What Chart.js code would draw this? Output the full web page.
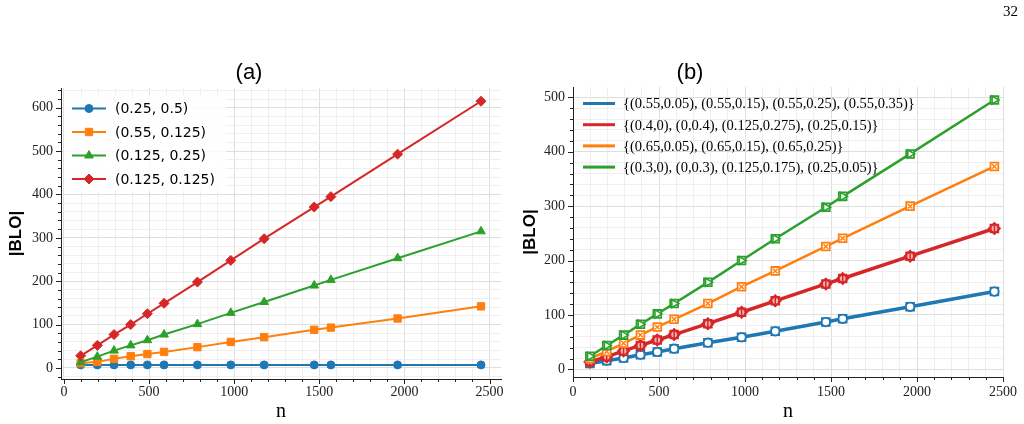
<!DOCTYPE html>
<html>
<head>
<meta charset="utf-8">
<script src="https://cdn.jsdelivr.net/npm/chart.js@4.4.0/dist/chart.umd.min.js"></script>
<style>
html,body{margin:0;padding:0;background:#fff;width:1024px;height:424px;overflow:hidden;position:relative;}
.wrap{position:absolute;top:0;width:512px;height:424px;}
#wrapA{left:0;}
#wrapB{left:512px;}
.ttl{position:absolute;font-family:"Liberation Sans",Arial,sans-serif;font-size:22px;color:#000;transform:translate(-50%,-50%);white-space:nowrap;line-height:1;}
#page{position:absolute;left:1003px;top:4px;font-family:"Liberation Serif",serif;font-size:15px;color:#000;line-height:1;}
</style>
</head>
<body>
<div class="wrap" id="wrapA"><canvas id="chartA" width="512" height="424"></canvas></div>
<div class="wrap" id="wrapB"><canvas id="chartB" width="512" height="424"></canvas></div>
<div class="ttl" style="left:249px;top:72px;">(a)</div>
<div class="ttl" style="left:690px;top:72px;">(b)</div>
<div id="page">32</div>
<script>
// ---------------- data ----------------
const nValues = [98, 196, 294, 392, 490, 588, 784, 980, 1176, 1470, 1568, 1960, 2450];

// panel (a)
const labelsA = ["(0.25, 0.5)", "(0.55, 0.125)", "(0.125, 0.25)", "(0.125, 0.125)"];
const blueA   = [7, 7, 7, 7, 7, 7, 7, 7, 7, 7, 7, 7, 7];
const orangeA = [11, 14, 21, 27, 32, 37, 48, 60, 71, 88, 93, 114, 142];
const greenA  = [13, 26, 40, 52, 64, 77, 101, 127, 152, 190, 203, 253, 315];
const redA    = [28, 52, 77, 100, 125, 149, 198, 248, 298, 371, 395, 493, 615];

// panel (b)
const labelsB = [
  "{(0.55,0.05), (0.55,0.15), (0.55,0.25), (0.55,0.35)}",
  "{(0.4,0), (0,0.4), (0.125,0.275), (0.25,0.15)}",
  "{(0.65,0.05), (0.65,0.15), (0.65,0.25)}",
  "{(0.3,0), (0,0.3), (0.125,0.175), (0.25,0.05)}"
];
const blueB   = [11, 16, 21, 27, 32, 38, 49, 59, 70, 87, 93, 115, 143];
const redB    = [14, 23, 34, 44, 54, 64, 84, 105, 126, 157, 167, 208, 259];
const orangeB = [20, 33, 48, 63, 78, 92, 121, 152, 181, 226, 241, 300, 373];
const greenB  = [24, 44, 63, 83, 102, 121, 160, 200, 240, 298, 318, 396, 495];

// tick labels
const xMajorTicks  = [0, 500, 1000, 1500, 2000, 2500];
const yMajorTicksA = [0, 100, 200, 300, 400, 500, 600];
const yMajorTicksB = [0, 100, 200, 300, 400, 500];

// ---------------- styling helpers ----------------
const C = {blue:'#1f77b4', orange:'#ff7f0e', green:'#2ca02c', red:'#d62728'};
const pts = (ys) => nValues.map((x, i) => ({x: x, y: ys[i]}));
const near = (list, v) => list.some(m => Math.abs(m - v) < 1e-6);

const tickMarks = {
  id: 'tickMarks',
  afterDraw(chart, args, o) {
    const ctx = chart.ctx, a = chart.chartArea;
    ctx.save();
    ctx.strokeStyle = '#222';
    ctx.lineWidth = 1;
    const xs = chart.scales.x, ys = chart.scales.y;
    ctx.beginPath();
    xs.ticks.forEach(t => {
      const p = Math.round(xs.getPixelForValue(t.value)) + 0.5;
      const len = near(o.xMajor, t.value) ? 5 : 3;
      ctx.moveTo(p, a.bottom); ctx.lineTo(p, a.bottom + len);
    });
    ys.ticks.forEach(t => {
      const p = Math.round(ys.getPixelForValue(t.value)) + 0.5;
      const len = near(o.yMajor, t.value) ? 5 : 3;
      ctx.moveTo(a.left, p); ctx.lineTo(a.left - len, p);
    });
    ctx.stroke();
    ctx.restore();
  }
};

const miniLegend = {
  id: 'miniLegend',
  afterDraw(chart, args, o) {
    const ctx = chart.ctx;
    const items = chart.data.datasets.filter(d => d.inLegend);
    ctx.save();
    if (o.box) {
      ctx.fillStyle = 'rgba(255,255,255,0.85)';
      ctx.fillRect(o.box[0], o.box[1], o.box[2], o.box[3]);
    }
    items.forEach((d, i) => {
      const y = o.y0 + i * o.dy;
      ctx.strokeStyle = d.borderColor;
      ctx.lineWidth = o.lineWidth;
      ctx.lineCap = 'butt';
      ctx.beginPath(); ctx.moveTo(o.x0, y); ctx.lineTo(o.x1, y); ctx.stroke();
      if (o.markers) {
        ctx.fillStyle = d.pointBackgroundColor;
        ctx.strokeStyle = d.pointBorderColor;
        ctx.lineWidth = d.pointBorderWidth;
        try {
          Chart.helpers.drawPoint(ctx, {pointStyle: d.pointStyle, rotation: d.pointRotation || 0,
            radius: d.pointRadius, borderWidth: d.pointBorderWidth}, (o.x0 + o.x1) / 2, y);
        } catch (e) {
          ctx.beginPath(); ctx.arc((o.x0 + o.x1) / 2, y, d.pointRadius, 0, Math.PI * 2); ctx.fill();
        }
      }
      ctx.fillStyle = '#000';
      ctx.font = o.font;
      ctx.textBaseline = 'middle';
      ctx.textAlign = 'left';
      ctx.fillText(d.label, o.tx, y + (o.textDy || 0));
    });
    ctx.restore();
  }
};

function makeScales(cfg) {
  const tickFont = {family: "'Liberation Serif', 'Times New Roman', serif", size: 14};
  return {
    x: {
      type: 'linear', min: cfg.xMin, max: cfg.xMax,
      border: {display: true, color: '#222', width: 1},
      grid: {drawTicks: false,
        color: c => (c.tick && near(xMajorTicks, c.tick.value)) ? '#dedede' : '#efefef',
        lineWidth: 1},
      ticks: {stepSize: 100, includeBounds: false, autoSkip: false, maxRotation: 0,
        padding: cfg.xPad, color: '#222', font: tickFont,
        callback: v => near(xMajorTicks, v) ? String(Math.round(v)) : ''},
      title: {display: true, text: 'n', color: '#000', padding: {top: 0, bottom: 0},
        font: {family: "'Liberation Serif', 'Times New Roman', serif", size: 20}},
      afterFit: s => { s.height = cfg.xHeight; s.paddingLeft = 0; s.paddingRight = 0; }
    },
    y: {
      type: 'linear', min: cfg.yMin, max: cfg.yMax,
      border: {display: true, color: '#222', width: 1},
      grid: {drawTicks: false,
        color: c => (c.tick && near(cfg.yMajor, c.tick.value)) ? '#dedede' : '#efefef',
        lineWidth: 1},
      ticks: {stepSize: 20, includeBounds: false, autoSkip: false,
        padding: 8, color: '#222', font: tickFont,
        callback: v => near(cfg.yMajor, v) ? String(Math.round(v)) : ''},
      title: {display: true, text: '|BLO|', color: '#000', padding: {top: cfg.yTitlePad, bottom: 0},
        font: {family: "'Liberation Sans', Arial, sans-serif", size: 17, weight: 'bold'}},
      afterFit: s => { s.width = 60; s.paddingTop = 0; s.paddingBottom = 0; }
    }
  };
}

// ---------------- chart (a) ----------------
const lineA = (label, ys, color, style, r, order) => ({
  label: label, data: pts(ys), borderColor: color, backgroundColor: color, borderWidth: 2,
  pointStyle: style, pointRadius: r, pointHoverRadius: r,
  pointBackgroundColor: color, pointBorderColor: color, pointBorderWidth: 1,
  inLegend: true, order: order, tension: 0
});

new Chart(document.getElementById('chartA'), {
  type: 'line',
  data: {datasets: [
    lineA(labelsA[0], blueA, C.blue, 'circle', 4, 4),
    lineA(labelsA[1], orangeA, C.orange, 'rect', 5.2, 3),
    lineA(labelsA[2], greenA, C.green, 'triangle', 5, 2),
    lineA(labelsA[3], redA, C.red, 'rectRot', 5, 1)
  ]},
  options: {
    responsive: false, animation: false,
    layout: {padding: {left: 1, right: 11, top: 88, bottom: 0}},
    scales: makeScales({xMin: -17.5, xMax: 2567.5, yMin: -25.5, yMax: 645.5,
      yMajor: yMajorTicksA, xPad: 5, xHeight: 45, yTitlePad: 5}),
    plugins: {
      legend: {display: false}, tooltip: {enabled: false},
      tickMarks: {xMajor: xMajorTicks, yMajor: yMajorTicksA},
      miniLegend: {box: [64, 95, 162, 96], x0: 72, x1: 106, y0: 108.5, dy: 23.5,
        tx: 115, lineWidth: 2, markers: true, textDy: 1,
        font: "14px 'DejaVu Sans', sans-serif"}
    }
  },
  plugins: [tickMarks, miniLegend]
});

// ---------------- chart (b) ----------------
const lineB = (label, ys, color, lw, order) => ({
  label: label, data: pts(ys), borderColor: color, backgroundColor: color, borderWidth: lw,
  pointStyle: 'rect', pointRadius: 5.5, pointHoverRadius: 5.5,
  pointBackgroundColor: '#fff', pointBorderColor: color, pointBorderWidth: 1.8,
  inLegend: true, order: order, tension: 0
});
const markB = (ys, color, style, r, rot, bw, order, fill) => ({
  label: '', data: pts(ys), showLine: false, borderColor: color, backgroundColor: color,
  pointStyle: style, pointRadius: r, pointHoverRadius: r, pointRotation: rot,
  pointBackgroundColor: fill || '#fff', pointBorderColor: color, pointBorderWidth: bw,
  inLegend: false, order: order
});

new Chart(document.getElementById('chartB'), {
  type: 'line',
  data: {datasets: [
    lineB(labelsB[0], blueB, C.blue, 3.5, 8),
    markB(blueB, C.blue, 'circle', 4.2, 0, 1.8, 7.5),
    lineB(labelsB[1], redB, C.red, 3.5, 6),
    markB(redB, C.red, 'rectRot', 5.5, 0, 1.8, 5.8, C.red),
    markB(redB, C.red, 'circle', 3.6, 0, 1.5, 5.6, '#f4b3b3'),
    markB(redB, C.red, 'line', 6, 90, 1.5, 5.4),
    lineB(labelsB[2], orangeB, C.orange, 2.5, 4),
    markB(orangeB, C.orange, 'crossRot', 3.2, 0, 1.4, 3.5),
    lineB(labelsB[3], greenB, C.green, 2.5, 2),
    markB(greenB, C.green, 'triangle', 4.6, 90, 1.6, 1.5)
  ]},
  options: {
    responsive: false, animation: false,
    layout: {padding: {left: 1, right: 21, top: 87, bottom: 0}},
    scales: makeScales({xMin: 0, xMax: 2500, yMin: -14, yMax: 519,
      yMajor: yMajorTicksB, xPad: 7, xHeight: 47, yTitlePad: 7}),
    plugins: {
      legend: {display: false}, tooltip: {enabled: false},
      tickMarks: {xMajor: xMajorTicks, yMajor: yMajorTicksB},
      miniLegend: {box: null, x0: 71, x1: 103, y0: 103.5, dy: 21.2,
        tx: 111, lineWidth: 3, markers: false, textDy: 1,
        font: "14.5px 'Liberation Serif', 'Times New Roman', serif"}
    }
  },
  plugins: [tickMarks, miniLegend]
});
</script>
</body>
</html>
